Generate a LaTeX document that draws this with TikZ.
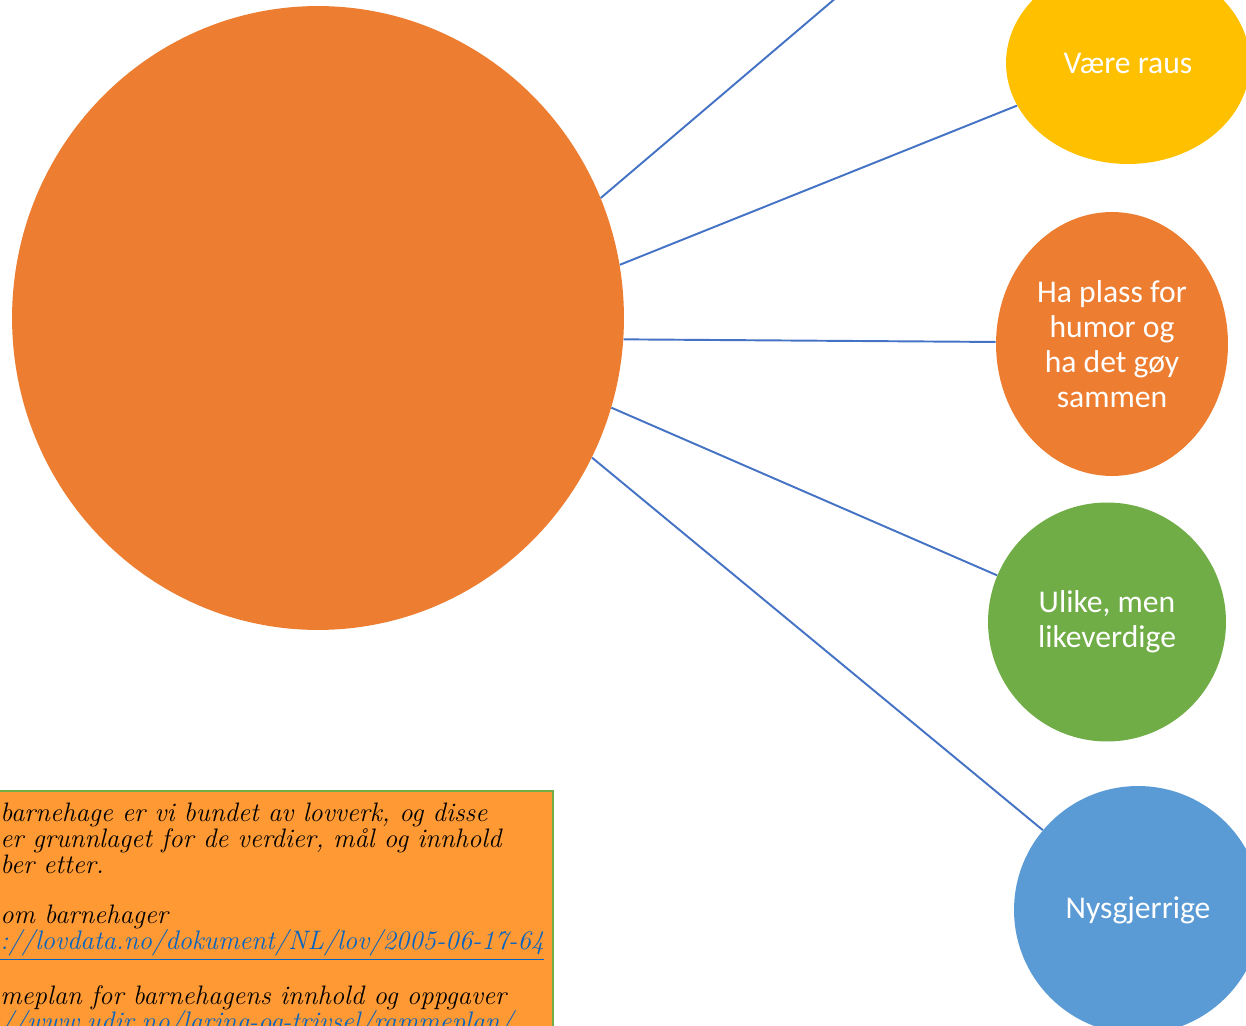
\documentclass[tikz,border=0pt]{standalone}
\usepackage{fontspec}
\usepackage{tikz}
\usetikzlibrary{shapes.geometric}
\newfontfamily\calibri{Carlito}
\definecolor{hub}{HTML}{ED7D31}
\definecolor{gul}{HTML}{FFC000}
\definecolor{gronn}{HTML}{70AD47}
\definecolor{blaa}{HTML}{5B9BD5}
\definecolor{linje}{HTML}{4472C4}
\definecolor{boks}{HTML}{FF9933}
\definecolor{lenke}{HTML}{0563C1}
\tikzstyle{value}=[ellipse, inner sep=0pt, text=white, align=center, font=\calibri\fontsize{18}{20}\selectfont]
\tikzstyle{spoke}=[draw=linje, line width=1.1pt]
\newcommand{\lenke}[1]{\textcolor{lenke}{\underline{#1}}}

\begin{document}
\begin{tikzpicture}[x=0.02cm, y=-0.02cm]
        \useasboundingbox (0,0) rectangle (1246,1026);
        \node[ellipse, fill=hub, minimum width=12.24cm, minimum height=12.48cm] (hub) at (318,318) {};
        \node[value, fill=gul, minimum width=4.88cm, minimum height=4.04cm] (raus) at (1128,63) {Være raus};
        \node[value, fill=hub, minimum width=4.64cm, minimum height=5.28cm] (humor) at (1112,344) {Ha plass for\\humor og\\ha det gøy\\sammen};
        \node[value, fill=gronn, minimum width=4.76cm, minimum height=4.78cm] (ulike) at (1107,622) {Ulike, men\\likeverdige};
        \node[value, fill=blaa, minimum width=4.96cm, minimum height=4.96cm] (nysgjerrig) at (1138,910) {Nysgjerrige};
        \coordinate (utenfor) at (857,-20);
        \draw[spoke] (hub.23.6) -- (utenfor);
        \draw[spoke] (hub.10.4) -- (raus.201);
        \draw[spoke] (hub.-4.2) -- (humor.179);
        \draw[spoke] (hub.-17.4) -- (ulike.157);
        \draw[spoke] (hub.-27.8) -- (nysgjerrig.140.5);
        % lovverk
        \draw[draw=gronn, fill=boks, line width=0.8pt] (-10,791) rectangle (553,1040);
        \node[anchor=north west, inner sep=0pt, align=left, font=\itshape\fontsize{15.2}{14.7}\selectfont] (lov) at (0,803) {barnehage er vi bundet av lovverk, og disse\\er grunnlaget for de verdier, mål og innhold\\ber etter.\\[14pt]om barnehager\\\lenke{://lovdata.no/dokument/NL/lov/2005-06-17-64}\\[13.5pt]meplan for barnehagens innhold og oppgaver\\\lenke{//www.udir.no/laring-og-trivsel/rammeplan/}};
    \end{tikzpicture}
\end{document}
